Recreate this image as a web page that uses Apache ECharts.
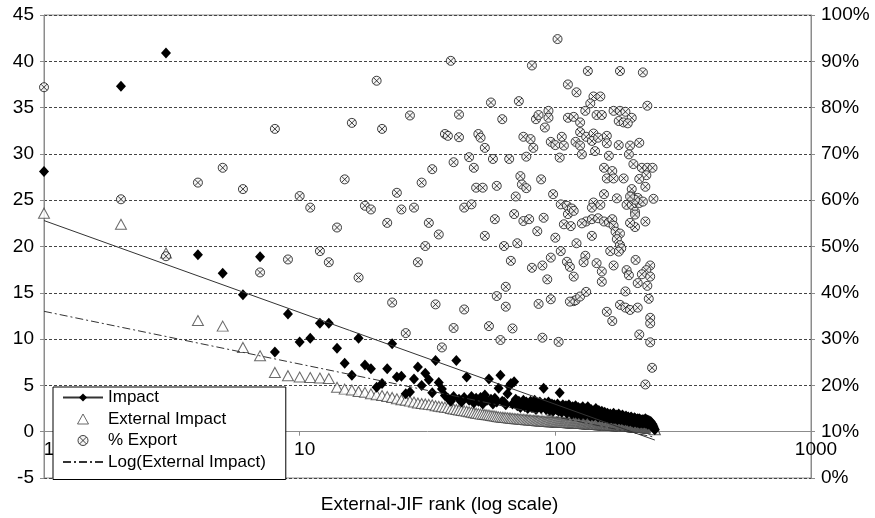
<!DOCTYPE html>
<html>
<head>
<meta charset="utf-8">
<style>html,body{margin:0;padding:0;background:#fff}#c{width:875px;height:518px}</style>
<script src="https://cdn.jsdelivr.net/npm/echarts@6/dist/echarts.min.js"></script>
</head>
<body>
<div id="c"></div>
<script>
// Impact by External-JIF rank (rank = index + 1)
const impact = [
28.1,37.3,40.9,19.1,17.1,14.8,18.9,8.6,12.7,9.7,
10.1,11.7,11.7,9.0,7.4,6.1,10.1,7.2,6.8,4.8,
5.2,6.8,9.5,5.9,6.0,4.1,4.3,5.7,7.0,5.0,
6.3,5.6,4.2,7.7,5.3,4.6,3.9,3.6,3.3,3.8,
7.7,3.5,3.2,3.7,5.9,3.4,3.8,3.1,3.6,3.3,
3.7,3.0,3.95,3.4,5.7,3.5,3.0,3.6,3.2,4.7,
6.1,3.3,3.2,2.9,4.1,4.9,5.2,3.0,5.4,3.5,
2.8,3.3,2.6,3.1,3.4,2.7,3.2,2.5,3.0,3.3,
2.6,2.9,3.4,2.4,3.0,2.7,3.2,2.5,2.9,4.7,
3.1,2.4,2.8,3.2,2.3,2.7,3.0,2.2,2.9,2.6,
2.4,3.0,2.2,4.2,2.7,2.1,2.9,2.5,2.3,2.8,
2.0,2.6,2.9,2.2,2.5,1.9,2.7,2.3,2.0,2.8,
2.4,1.9,2.6,2.1,2.5,1.8,2.3,2.7,2.0,2.2,
1.8,2.5,2.1,2.7,1.9,2.3,1.7,2.4,2.0,2.2,
1.7,2.3,1.9,2.5,1.8,2.1,1.6,2.3,1.9,2.0,
1.6,2.2,1.8,2.0,1.5,2.1,1.7,1.9,1.5,2.0,
1.6,1.8,1.4,1.9,1.7,1.5,1.8,1.4,2.0,1.6,
1.4,1.7,1.5,1.8,1.3,1.6,1.9,1.4,1.7,1.3,
1.6,1.4,1.8,1.3,1.5,1.2,1.6,1.4,1.7,1.2,
1.5,1.3,1.6,1.1,1.4,1.2,1.5,1.6,1.1,1.3,
1.4,1.0,1.3,1.5,1.1,1.4,1.2,1.0,1.3,1.4,
1.0,1.2,1.4,0.9,1.1,1.3,1.0,1.2,1.3,0.9,
1.1,1.3,1.0,1.2,1.4,0.9,1.1,1.3,1.2,0.8,
1.0,1.2,0.9,1.0,0.8,1.1,0.7,0.9,0.6,0.8,
0.5,0.6,0.4,0.3,0.2
];
// External Impact by rank
const externalImpact = [
23.6,22.4,19.3,12.0,11.4,9.1,8.2,6.4,6.05,5.9,
5.85,5.8,5.75,4.8,4.6,4.5,4.35,4.25,4.1,4.0,
3.9,3.8,3.7,3.55,3.45,3.4,3.3,3.2,3.1,3.05,
3.0,2.95,2.9,2.8,2.75,2.7,2.65,2.6,2.5,2.45,
2.4,2.35,2.3,2.25,2.2,2.15,2.1,2.05,2.0,1.95,
1.9,1.88,1.85,1.82,1.8,1.75,1.72,1.7,1.65,1.6,
1.58,1.56,1.54,1.52,1.50,1.48,1.46,1.44,1.42,1.40,
1.39,1.37,1.36,1.34,1.33,1.31,1.30,1.28,1.27,1.25,
1.24,1.23,1.21,1.20,1.19,1.18,1.16,1.15,1.14,1.12,
1.11,1.10,1.10,1.09,1.08,1.08,1.07,1.06,1.06,1.05,
1.04,1.04,1.03,1.02,1.02,1.01,1.00,1.00,0.99,0.98,
0.98,0.97,0.96,0.96,0.95,0.94,0.94,0.93,0.93,0.92,
0.91,0.91,0.90,0.90,0.89,0.88,0.88,0.87,0.87,0.86,
0.85,0.85,0.84,0.84,0.83,0.82,0.82,0.81,0.81,0.80,
0.80,0.79,0.79,0.78,0.78,0.77,0.77,0.76,0.76,0.75,
0.75,0.74,0.74,0.73,0.73,0.72,0.72,0.71,0.71,0.70,
0.70,0.70,0.69,0.69,0.68,0.68,0.67,0.67,0.67,0.66,
0.66,0.65,0.65,0.64,0.64,0.64,0.63,0.63,0.62,0.62,
0.62,0.61,0.61,0.60,0.60,0.60,0.59,0.59,0.58,0.58,
0.58,0.57,0.57,0.56,0.56,0.56,0.55,0.55,0.55,0.54,
0.54,0.53,0.53,0.53,0.52,0.52,0.51,0.51,0.51,0.50,
0.50,0.49,0.49,0.49,0.48,0.48,0.47,0.47,0.46,0.46,
0.46,0.45,0.45,0.44,0.44,0.43,0.43,0.42,0.42,0.41,
0.41,0.40,0.40,0.39,0.39,0.38,0.37,0.37,0.36,0.35,
0.34,0.33,0.31,0.28,0.22
];
// % Export: [rank, percent]
const exportPoints = [
[1,84.4],[2,60.2],[3,47.9],[4,63.8],[5,67.0],[6,62.4],[7,44.4],[8,75.4],[9,47.2],[10,60.9],
[11,58.4],[12,49.0],[13,46.6],[14,54.1],[15,64.5],[16,76.7],[17,43.3],[18,58.8],[19,58.0],[20,85.8],
[21,75.4],[22,55.1],[23,37.9],[24,61.6],[25,58.0],[26,31.3],[27,78.3],[28,58.4],[29,46.6],[30,63.8],
[31,50.1],[32,55.1],[33,66.7],[34,37.5],[35,52.6],[36,28.2],[37,74.3],[38,73.9],[39,90.1],[40,68.2],
[40,32.4],[42,78.5],[42,73.6],[44,58.4],[44,36.4],[46,69.3],[47,59.1],[48,67.0],[49,62.7],[50,74.3],
[51,73.5],[52,62.7],[53,52.3],[53,71.3],[55,32.8],[56,81.1],[57,68.9],[58,55.9],[59,63.1],[59,39.3],
[61,29.8],[62,77.5],[63,50.1],[64,41.3],[64,37.0],[66,68.9],[67,46.9],[68,32.3],[69,57.0],[70,60.8],
[71,50.7],[72,81.4],[73,65.2],[74,63.4],[75,73.7],[75,55.5],[77,69.4],[77,62.6],[79,55.9],[80,73.2],
[81,89.1],[81,45.4],[82,71.3],[84,77.5],[85,53.3],[86,37.6],[86,78.4],[88,64.5],[89,45.9],[89,30.3],
[90,56.2],[91,75.7],[93,42.9],[94,79.3],[94,77.8],[96,47.6],[96,72.6],[96,38.6],[98,61.3],[100,71.9],
[100,51.9],[102,94.8],[103,29.4],[104,69.2],[105,59.1],[105,49.0],[106,73.7],[108,71.8],[108,54.8],[111,58.8],
[111,46.7],[112,57.0],[112,85.0],[112,77.8],[114,45.6],[115,54.4],[116,58.2],[118,57.7],[118,38.2],[118,43.5],
[118,78.0],[121,83.3],[120,72.6],[121,50.7],[120,38.4],
[134,87.9],[179,87.9],[220,87.6],
[141,82.4],[150,82.4],[137,80.9],[131,79.3],[145,78.4],[152,78.4],[229,80.4],
[169,79.3],[179,79.3],[188,79.1],[199,77.8],[177,77.1],[185,76.8],[192,76.6],[125,76.8],
[125,74.7],[125,71.8],[127,69.9],[132,73.7],[141,74.4],[139,72.8],[147,73.5],[159,73.9],[159,72.3],
[143,70.6],[177,71.9],[196,71.8],[213,72.4],[162,69.6],[194,69.9],[202,67.8],
[155,67.0],[167,66.3],[159,64.7],[169,64.7],[185,64.7],
[218,67.0],[229,67.0],[240,67.0],[227,65.4],[213,64.6],[225,62.9],[199,62.4],[199,60.8],[210,60.5],
[155,61.3],[174,60.4],[141,59.5],[139,58.4],[150,59.0],[242,60.3],
[132,55.4],[127,55.0],[139,55.9],
[147,56.1],[155,55.4],[162,55.2],[167,55.9],[169,54.5],[172,53.2],[179,52.8],[174,51.6],[179,50.3],[181,49.6],[177,48.9],
[190,59.0],[199,59.0],[205,57.5],[213,59.4],[220,59.7],[205,56.9],[225,55.4],[205,54.2],[196,55.1],[205,60.1],[196,60.8],
[139,52.3],[164,49.0],[206,47.1],[131,48.0],[129,46.6],
[145,46.4],[152,44.6],[152,42.4],[169,45.9],[190,44.9],[194,43.8],
[235,45.9],[227,44.9],[218,44.0],[235,43.5],[210,42.1],[229,41.5],
[114,38.1],[125,39.2],[132,40.2],
[188,40.3],[179,37.4],[188,36.8],[196,36.3],[210,36.8],[232,38.7],
[159,35.9],[167,33.9],[235,34.6],[235,33.4],[213,31.0],[235,29.3],[239,23.8],[225,20.2]
];
// Logarithmic trend lines (end points)
const impactTrend = [[1,22.8],[245,-0.9]];
const externalLogTrend = [[1,13.0],[245,-0.6]];
const xTicks = [1,10,100,1000];
const yMin = -5, yMax = 45;

const FONT = "'Liberation Sans', Arial, sans-serif";
const hatchCircle = 'path://M20,10 A10,10 0 1,1 0,10 A10,10 0 1,1 20,10 Z M3,3 L17,17 M3,17 L17,3';
const triPath = 'path://M11,0 L22,20 L0,20 Z';

const W = 875, H = 518;
const gridTop = 15, gridBottom = 40;
const plotH = H - gridTop - gridBottom;
// place the x axis where y = 0 (the axis crosses there)
const xAxisOffset = -plotH * (0 - yMin) / (yMax - yMin);

const chart = echarts.init(document.getElementById('c'), null, {renderer:'canvas'});
chart.setOption({
  animation:false,
  backgroundColor:'#fff',
  textStyle:{fontFamily:FONT},
  grid:{left:44,right:64,top:gridTop,bottom:gridBottom,show:true,borderColor:'#8c8c8c',borderWidth:1,
        containLabel:false, outerBoundsMode:'none'},
  legend:{
    orient:'vertical', left:53, top:387,
    backgroundColor:'#fff', borderColor:'#000', borderWidth:1, borderRadius:0,
    padding:[2,20,9,9], itemGap:4.5, itemWidth:40, itemHeight:10,
    textStyle:{fontSize:17, fontFamily:FONT, color:'#000'},
    selectedMode:false, z:10, symbolKeepAspect:true,
    data:[
      'Impact',
      {name:'External Impact', icon:triPath, itemStyle:{borderWidth:1}},
      {name:'% Export', itemStyle:{borderWidth:1}},
      {name:'Log(External Impact)', itemStyle:{opacity:0}}
    ]
  },
  xAxis:{
    type:'log', logBase:10, min:1, max:1000, position:'bottom', offset:xAxisOffset,
    name:'External-JIF rank (log scale)', nameLocation:'middle', nameGap:64,
    nameTextStyle:{fontSize:19, color:'#000', fontFamily:FONT, padding:[0,0,0,24]},
    axisLine:{onZero:false, lineStyle:{color:'#8c8c8c',width:1}},
    axisTick:{show:true,length:4,lineStyle:{color:'#8c8c8c'}},
    axisLabel:{fontSize:19,color:'#000',margin:9,showMinLabel:true,showMaxLabel:true,padding:[0,0,0,10],
      formatter:function(v){return xTicks.indexOf(Math.round(v))>=0?String(Math.round(v)):'';}},
    splitLine:{show:false}, minorTick:{show:false}
  },
  yAxis:[
    {type:'value',min:yMin,max:yMax,interval:5,position:'left',
     axisLine:{show:true,lineStyle:{color:'#8c8c8c'}},
     axisTick:{show:true,length:4,lineStyle:{color:'#8c8c8c'}},
     axisLabel:{fontSize:19,color:'#000',margin:10},
     splitLine:{show:true,lineStyle:{color:'#444',type:[3,2],width:1}}},
    {type:'value',min:0,max:100,interval:10,position:'right',
     axisLine:{show:true,lineStyle:{color:'#8c8c8c'}},
     axisTick:{show:true,length:4,lineStyle:{color:'#8c8c8c'}},
     axisLabel:{fontSize:19,color:'#000',margin:10,formatter:'{value}%'},
     splitLine:{show:false}}
  ],
  series:[
    {name:'Impact', type:'line', data:impactTrend, symbol:'diamond', showSymbol:false,
     itemStyle:{color:'#000'}, lineStyle:{color:'#333',width:1}, z:4, silent:true},
    {name:'External Impact', type:'scatter', data:externalImpact.map((v,i)=>[i+1,v]),
     symbol:'triangle', symbolSize:[11,10],
     itemStyle:{color:'#fff',borderColor:'#444',borderWidth:1}, z:2},
    {name:'Impact', type:'scatter', data:impact.map((v,i)=>[i+1,v]),
     symbol:'diamond', symbolSize:[10,11], itemStyle:{color:'#000',opacity:1}, z:2},
    {name:'% Export', type:'scatter', yAxisIndex:1, data:exportPoints,
     symbol:hatchCircle, symbolSize:9, symbolKeepAspect:true,
     itemStyle:{color:'#f2f2f2',borderColor:'#111',borderWidth:1}, z:3},
    {name:'Log(External Impact)', type:'line', data:externalLogTrend, symbol:'none',
     itemStyle:{color:'#333'}, lineStyle:{color:'#333',width:1,type:[8,3,2,3]}, z:4, silent:true}
  ]
});
</script>
</body>
</html>
